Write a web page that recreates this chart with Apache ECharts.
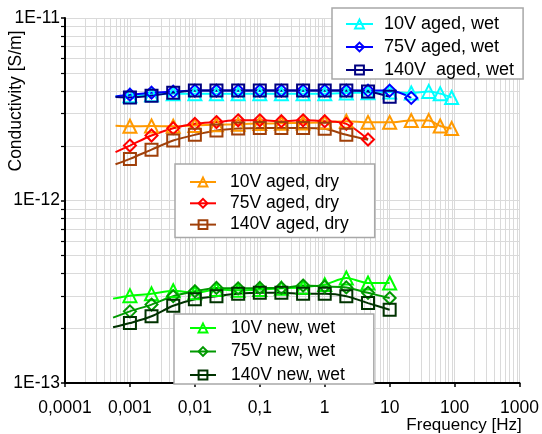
<!DOCTYPE html>
<html>
<head>
<meta charset="utf-8">
<script src="https://cdn.jsdelivr.net/npm/echarts@6/dist/echarts.min.js"></script>
<style>
  html, body { margin: 0; padding: 0; background: #fff; }
  #chart { width: 542px; height: 434px; }
</style>
</head>
<body>
<div id="chart"></div>
<script>
// Measurement frequencies [Hz]
const freqLow = [0.001, 0.00215, 0.00464, 0.01, 0.0215, 0.0464, 0.1, 0.215, 0.464, 1, 2.15, 4.64, 10];
const freqHigh = [21.5, 40, 60, 90];
// Where the fitted curves begin on the low-frequency side
const fitStartAged = 0.0006;
const fitStartNew = 0.00055;

// Axis tick labels
const xTickLabels = ['0,0001', '0,001', '0,01', '0,1', '1', '10', '100', '1000'];
const yTickLabels = ['1E-13', '1E-12', '1E-11'];

// Conductivity [S/m], aged samples, wet
const agedWet10V = [3.75e-12, 3.8e-12, 3.85e-12, 3.85e-12, 3.85e-12, 3.85e-12, 3.85e-12, 3.85e-12, 3.85e-12, 3.85e-12, 3.88e-12, 3.9e-12, 3.93e-12, 3.88e-12, 3.96e-12, 3.85e-12, 3.67e-12];
const agedWet75V = [3.8e-12, 3.9e-12, 3.95e-12, 4.0e-12, 4.0e-12, 4.0e-12, 4.0e-12, 4.0e-12, 4.0e-12, 4.0e-12, 4.0e-12, 4.0e-12, 4.0e-12, 3.65e-12];
const agedWet140V = [3.67e-12, 3.75e-12, 3.9e-12, 4.0e-12, 4.0e-12, 4.0e-12, 4.0e-12, 4.0e-12, 4.0e-12, 4.0e-12, 4.0e-12, 3.96e-12, 3.7e-12];

// Conductivity [S/m], aged samples, dry
const agedDry10V = [2.55e-12, 2.56e-12, 2.55e-12, 2.58e-12, 2.6e-12, 2.62e-12, 2.64e-12, 2.65e-12, 2.66e-12, 2.68e-12, 2.72e-12, 2.68e-12, 2.68e-12, 2.74e-12, 2.74e-12, 2.56e-12, 2.48e-12];
const agedDry75V = [2.0e-12, 2.27e-12, 2.49e-12, 2.63e-12, 2.69e-12, 2.75e-12, 2.75e-12, 2.72e-12, 2.75e-12, 2.72e-12, 2.63e-12, 2.16e-12];
const agedDry140V = [1.69e-12, 1.9e-12, 2.13e-12, 2.29e-12, 2.42e-12, 2.48e-12, 2.5e-12, 2.5e-12, 2.5e-12, 2.47e-12, 2.29e-12];

// Conductivity [S/m], new samples, wet
const newWet10V = [3.01e-13, 3.08e-13, 3.2e-13, 3.12e-13, 3.25e-13, 3.22e-13, 3.25e-13, 3.3e-13, 3.35e-13, 3.46e-13, 3.76e-13, 3.53e-13, 3.53e-13];
const newWet75V = [2.47e-13, 2.69e-13, 2.99e-13, 3.18e-13, 3.32e-13, 3.3e-13, 3.32e-13, 3.32e-13, 3.42e-13, 3.38e-13, 3.34e-13, 3.12e-13, 2.92e-13];
const newWet140V = [2.13e-13, 2.32e-13, 2.65e-13, 2.88e-13, 2.99e-13, 3.08e-13, 3.12e-13, 3.12e-13, 3.08e-13, 3.08e-13, 2.99e-13, 2.74e-13, 2.52e-13];

// Fitted-curve values at the low-frequency start
const fitStartAgedWet = [3.72e-12, 3.72e-12, 3.69e-12];
const fitStartAgedDry = [2.57e-12, 1.84e-12, 1.58e-12];
const fitStartNewWet = [2.9e-13, 2.28e-13, 2.02e-13];
// Fitted curve of 140V aged, dry continues past its last measurement
const agedDry140VTail = [4.64, 2.15e-12];

const allFreq = freqLow.concat(freqHigh);

function curve(startF, startV, values, tail) {
  const pts = [{ value: [startF, startV], symbol: 'none' }];
  values.forEach((v, i) => pts.push([allFreq[i], v]));
  if (tail) pts.push({ value: tail, symbol: 'none' });
  return pts;
}

function lineSeries(name, color, symbol, size, data) {
  return {
    name: name,
    type: 'line',
    smooth: 0.3,
    symbol: symbol,
    symbolSize: size,
    showAllSymbol: true,
    data: data,
    lineStyle: { color: color, width: 2 },
    itemStyle: { color: 'rgba(255,255,255,0)', borderColor: color, borderWidth: 2 },
    emphasis: { disabled: true },
    z: 3
  };
}

// Minor grid positions (2..9 within each decade)
const xMinor = [];
for (let e = -4; e < 3; e++) for (let m = 2; m <= 9; m++) xMinor.push([m * Math.pow(10, e), 1e-13]);
const yMinor = [];
for (let e = -13; e < -11; e++) for (let m = 2; m <= 9; m++) yMinor.push([1e-4, m * Math.pow(10, e)]);

const gridColor = '#dadada';
const font = '"Liberation Sans", Arial, sans-serif';

const chart = echarts.init(document.getElementById('chart'), null, { renderer: 'canvas' });

chart.setOption({
  animation: false,
  backgroundColor: '#fff',
  grid: { left: 65, right: 14, top: 18, bottom: 51, containLabel: false },
  xAxis: {
    type: 'log', logBase: 10, min: 1e-4, max: 1000,
    axisLine: { show: true, onZero: false, lineStyle: { color: '#000', width: 2 } },
    axisTick: { show: true, inside: false, length: 4, lineStyle: { color: '#000', width: 1.5 } },
    axisLabel: {
      margin: 16, color: '#000', fontSize: 17.5, fontFamily: font,
      formatter: v => xTickLabels[Math.round(Math.log10(v)) + 4]
    },
    splitLine: { show: true, lineStyle: { color: gridColor, width: 1 } },
    minorTick: { show: false }, minorSplitLine: { show: false }
  },
  yAxis: {
    type: 'log', logBase: 10, min: 1e-13, max: 1e-11,
    axisLine: { show: true, onZero: false, lineStyle: { color: '#000', width: 2 } },
    axisTick: { show: true, inside: false, length: 4, lineStyle: { color: '#000', width: 1.5 } },
    axisLabel: {
      margin: 5, color: '#000', fontSize: 17.5, fontFamily: font,
      formatter: v => yTickLabels[Math.round(Math.log10(v)) + 13]
    },
    splitLine: { show: true, lineStyle: { color: gridColor, width: 1 } },
    minorTick: { show: false }, minorSplitLine: { show: false }
  },
  legend: [
    {
      data: ['10V aged, wet', '75V aged, wet', '140V  aged, wet'],
      orient: 'vertical', left: 332, top: 8,
      padding: [7, 9, 0, 13], itemGap: 5, itemWidth: 27, itemHeight: 11,
      backgroundColor: '#fff', borderColor: '#a8a8a8', borderWidth: 1.5,
      selectedMode: false,
      textStyle: { color: '#000', fontSize: 18, fontFamily: font, padding: [0, 0, 0, 6] }
    },
    {
      data: ['10V aged, dry', '75V aged, dry', '140V aged, dry'],
      orient: 'vertical', left: 175, top: 164,
      padding: [9, 26, 4, 14], itemGap: 3.3, itemWidth: 26, itemHeight: 11,
      backgroundColor: '#fff', borderColor: '#a8a8a8', borderWidth: 1.5,
      selectedMode: false,
      textStyle: { color: '#000', fontSize: 17.5, fontFamily: font, padding: [0, 0, 0, 9] }
    },
    {
      data: ['10V new, wet', '75V new, wet', '140V new, wet'],
      orient: 'vertical', left: 174, top: 314,
      padding: [5, 29, 0, 15], itemGap: 5.5, itemWidth: 26, itemHeight: 11,
      backgroundColor: '#fff', borderColor: '#a8a8a8', borderWidth: 1.5,
      selectedMode: false,
      textStyle: { color: '#000', fontSize: 17.5, fontFamily: font, padding: [0, 0, 0, 10] }
    }
  ],
  graphic: [
    {
      type: 'text', x: 16, y: 101, rotation: Math.PI / 2,
      style: { text: 'Conductivity [S/m]', fontSize: 17.5, fontFamily: font, fill: '#000', align: 'center', verticalAlign: 'middle' }
    },
    {
      type: 'text', x: 464, y: 425,
      style: { text: 'Frequency [Hz]', fontSize: 17, fontFamily: font, fill: '#000', align: 'center', verticalAlign: 'middle' }
    }
  ],
  series: [
    // minor vertical grid lines
    {
      type: 'custom', silent: true, z: 1, data: xMinor,
      renderItem: function (params, api) {
        const v = api.value(0);
        const a = api.coord([v, 1e-13]);
        const b = api.coord([v, 1e-11]);
        const x = Math.round(a[0]) + 0.5;
        return { type: 'line', shape: { x1: x, y1: a[1] - 1, x2: x, y2: b[1] }, style: { stroke: gridColor, lineWidth: 1 } };
      }
    },
    // minor horizontal grid lines with small outward ticks on the y axis
    {
      type: 'custom', silent: true, z: 1, clip: false, data: yMinor,
      renderItem: function (params, api) {
        const v = api.value(1);
        const a = api.coord([1e-4, v]);
        const b = api.coord([1000, v]);
        const y = Math.round(a[1]) + 0.5;
        return {
          type: 'group',
          children: [
            { type: 'line', shape: { x1: a[0] + 1, y1: y, x2: b[0], y2: y }, style: { stroke: gridColor, lineWidth: 1 } },
            { type: 'line', shape: { x1: a[0] - 4, y1: y, x2: a[0] - 1, y2: y }, style: { stroke: '#000', lineWidth: 1.2 } }
          ]
        };
      }
    },
    lineSeries('10V aged, wet', '#00ffff', 'triangle', 13, curve(fitStartAged, fitStartAgedWet[0], agedWet10V)),
    lineSeries('75V aged, wet', '#0000ff', 'diamond', 12, curve(fitStartAged, fitStartAgedWet[1], agedWet75V)),
    lineSeries('140V  aged, wet', '#000080', 'rect', 12, curve(fitStartAged, fitStartAgedWet[2], agedWet140V)),
    lineSeries('10V aged, dry', '#ff9900', 'triangle', 13, curve(fitStartAged, fitStartAgedDry[0], agedDry10V)),
    lineSeries('75V aged, dry', '#ff0000', 'diamond', 12, curve(fitStartAged, fitStartAgedDry[1], agedDry75V)),
    lineSeries('140V aged, dry', '#a0400a', 'rect', 12, curve(fitStartAged, fitStartAgedDry[2], agedDry140V, agedDry140VTail)),
    lineSeries('10V new, wet', '#00ff00', 'triangle', 13, curve(fitStartNew, fitStartNewWet[0], newWet10V)),
    lineSeries('75V new, wet', '#009900', 'diamond', 12, curve(fitStartNew, fitStartNewWet[1], newWet75V)),
    lineSeries('140V new, wet', '#003300', 'rect', 12, curve(fitStartNew, fitStartNewWet[2], newWet140V))
  ]
});
</script>
</body>
</html>
